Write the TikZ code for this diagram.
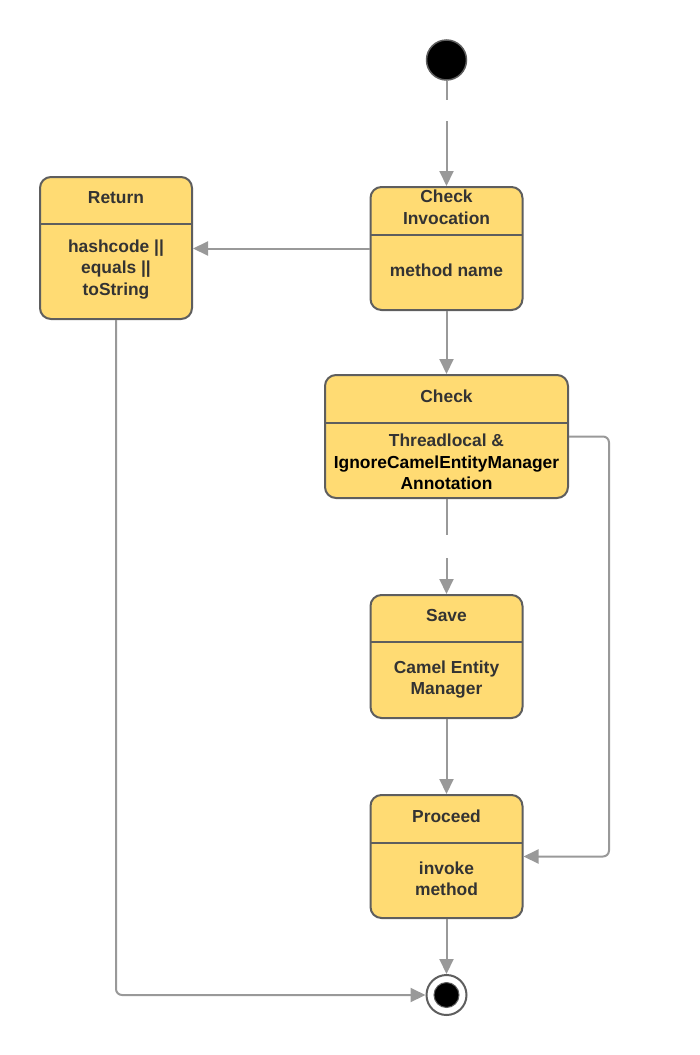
\documentclass[tikz,border=0pt]{standalone}
\usepackage{fontspec}
\setmainfont{Liberation Sans}
\usetikzlibrary{arrows.meta}

\definecolor{stateFill}{HTML}{FFDB73}
\definecolor{stateLine}{HTML}{5E5E5E}
\definecolor{flowLine}{HTML}{999999}
\definecolor{textGrey}{HTML}{333333}

\tikzset{
  state/.style={draw=stateLine, fill=stateFill, line width=2pt, rounded corners=11pt,
    minimum width=152pt, minimum height=123pt, inner sep=0pt},
  txt/.style={align=center, text=textGrey, font=\fontsize{17.4}{21.5}\selectfont\bfseries, inner sep=0pt},
  divider/.style={draw=stateLine, line width=2pt},
  line/.style={draw=flowLine, line width=2pt, rounded corners=6pt},
  flow/.style={line, -{Triangle[length=15pt,width=14pt]}},
}

\begin{document}
\begin{tikzpicture}[x=1pt,y=-1pt]
\useasboundingbox (0,0) rectangle (699,1055);

% initial and final
\node[circle, fill=black, draw=stateLine, line width=1.5pt, minimum size=40pt, inner sep=0pt] (start) at (446.5,60) {};
\node[circle, fill=white, draw=stateLine, line width=2pt, minimum size=40pt, inner sep=0pt] (stop) at (446.5,995) {};
\filldraw[fill=black, draw=stateLine, line width=1pt] (stop.center) circle (12.5pt);

% states
\node[state] (ci) at (446.5,248.5) {};
\draw[divider] (370.5,235) -- (522.5,235);
\node[txt] (ciT) at (446.5,207.5) {Check\\Invocation};
\node[txt] (ciB) at (446.5,270) {method name};

\node[state, minimum height=142pt] (ret) at (116,248) {};
\draw[divider] (40,224) -- (192,224);
\node[txt] (retT) at (116,198) {Return};
\node[txt] (retB) at (116,269.5) {hashcode ||\\equals ||\\toString};

\node[state, minimum width=243pt] (chk) at (446.5,436.5) {};
\draw[divider] (325,423) -- (568,423);
\node[txt] (chkT) at (446.5,396) {Check};
\node[txt] (chkB) at (446.5,462) {Threadlocal \&\\\textcolor{black}{IgnoreCamelEntityManager}\\\textcolor{black}{Annotation}};

\node[state] (save) at (446.5,656.5) {};
\draw[divider] (370.5,642) -- (522.5,642);
\node[txt] (saveT) at (446.5,616) {Save};
\node[txt] (saveB) at (446.5,679.5) {Camel Entity\\Manager};

\node[state] (proc) at (446.5,856.5) {};
\draw[divider] (370.5,843) -- (522.5,843);
\node[txt] (procT) at (446.5,816) {Proceed};
\node[txt] (procB) at (446.5,879) {invoke\\method};

% flows
\coordinate (gapA) at (446.5,100);
\coordinate (gapB) at (446.5,121);
\coordinate (gapC) at (446.5,535);
\coordinate (gapD) at (446.5,558);

\draw[line] (start) -- (gapA);
\draw[flow] (gapB) -- (ci.north);
\draw[flow] (ci.west) -- (ci.west -| ret.east);
\draw[flow] (ci.south) -- (chk.north);
\draw[line] (chk.south) -- (gapC);
\draw[flow] (gapD) -- (save.north);
\draw[flow] (chk.east) -- ++(40,0) |- (proc.east);
\draw[flow] (save.south) -- (proc.north);
\draw[flow] (proc.south) -- (stop.north);
\draw[flow] (ret.south) |- (stop.west);

\end{tikzpicture}
\end{document}
